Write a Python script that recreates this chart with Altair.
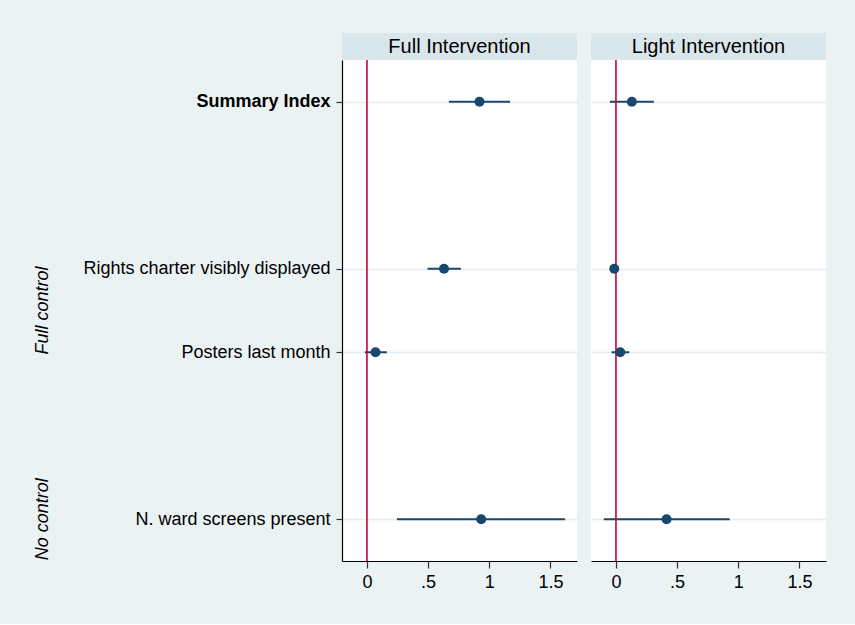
import altair as alt
import pandas as pd

# ---- data ----
outcomes = ["Summary Index", "Rights charter visibly displayed",
            "Posters last month", "N. ward screens present"]
positions = [1, 3, 4, 6]
groups = ["Full control", "No control"]
group_positions = [3.5, 6]
panels = ["Full Intervention", "Light Intervention"]

full_est = [0.92, 0.63, 0.07, 0.934]
full_lo = [0.67, 0.495, -0.017, 0.245]
full_hi = [1.17, 0.768, 0.163, 1.62]

light_est = [0.13, -0.014, 0.035, 0.414]
light_lo = [-0.05, -0.02, -0.036, -0.10]
light_hi = [0.31, -0.008, 0.109, 0.93]

x_ticks = [0, 0.5, 1, 1.5]
x_tick_labels = ["0", ".5", "1", "1.5"]

# ---- style ----
BG = "#eaf2f3"
STRIP = "#d9e6eb"
NAVY = "#1a476f"
RED = "#c10534"
FONT = "Liberation Sans"
W, H = 235, 501
X_DOMAIN = [-0.204, 1.717]

label_expr = " : ".join(
    f"datum.value == {p} ? '{o}'" for p, o in zip(positions, outcomes)
) + " : ''"
x_label_expr = " : ".join(
    f"datum.value == {v} ? '{l}'" for v, l in zip(x_ticks, x_tick_labels)
) + " : ''"


def panel(name, est, lo, hi, first):
    df = pd.DataFrame({"pos": positions, "est": est, "lo": lo, "hi": hi,
                       "outcome": outcomes})
    xscale = alt.Scale(domain=X_DOMAIN, nice=False, zero=False)
    yscale = alt.Scale(domain=[0.5, 6.5], reverse=True, nice=False, zero=False)
    xaxis = alt.Axis(values=x_ticks, labelExpr=x_label_expr, title=None, grid=False,
                     domainColor="#000000", domainWidth=1.2, tickColor="#333333",
                     tickWidth=1.2, tickSize=7, labelPadding=5, labelFontSize=18,
                     labelFont=FONT, labelColor="#000000")
    if first:
        yaxis = alt.Axis(values=positions, labelExpr=label_expr, title=None,
                         grid=True, gridColor="#e3ecee", gridWidth=1.5,
                         domainColor="#000000", domainWidth=1.2,
                         tickColor="#333333", tickWidth=1.2, tickSize=6,
                         labelPadding=6, labelFontSize=18, labelFont=FONT,
                         labelColor="#000000", labelLimit=400,
                         labelFontWeight={"condition": {"test": "datum.value == 1",
                                                        "value": "bold"},
                                          "value": "normal"})
    else:
        yaxis = alt.Axis(values=positions, title=None, grid=True,
                         gridColor="#e3ecee", gridWidth=1.5, labels=False,
                         ticks=False, domain=False)

    base = alt.Chart(df)
    ci = base.mark_rule(color=NAVY, strokeWidth=2).encode(
        x=alt.X("lo:Q", scale=xscale, axis=xaxis),
        x2="hi:Q",
        y=alt.Y("pos:Q", scale=yscale, axis=yaxis),
    )
    zero = alt.Chart(pd.DataFrame({"z": [0]})).mark_rule(
        color=RED, strokeWidth=1.6).encode(x=alt.X("z:Q", scale=xscale))
    pts = base.mark_point(filled=True, color=NAVY, size=100, opacity=1).encode(
        x=alt.X("est:Q", scale=xscale),
        y=alt.Y("pos:Q", scale=yscale),
    )
    strip = alt.Chart(pd.DataFrame({"t": [name]})).mark_rect(color=STRIP).encode(
        x=alt.value(0), x2=alt.value(W), y=alt.value(-27), y2=alt.value(0))
    strip_text = alt.Chart(pd.DataFrame({"t": [name]})).mark_text(
        font=FONT, fontSize=20, color="#000000", baseline="middle",
        align="center").encode(x=alt.value(W / 2), y=alt.value(-13), text="t:N")
    layers = [strip, strip_text, ci, zero, pts]
    if first:
        gdf = pd.DataFrame({"g": groups, "gpos": group_positions})
        gtext = alt.Chart(gdf).mark_text(
            font=FONT, fontSize=18, fontStyle="italic", color="#000000",
            angle=270, align="center", baseline="middle").encode(
            x=alt.value(-299), y=alt.Y("gpos:Q", scale=yscale), text="g:N")
        layers.append(gtext)
    return alt.layer(*layers).properties(width=W, height=H)


chart = alt.hconcat(
    panel(panels[0], full_est, full_lo, full_hi, True),
    panel(panels[1], light_est, light_lo, light_hi, False),
    spacing=14,
).properties(
    background=BG,
    padding={"left": 34, "top": 33, "right": 29, "bottom": 33},
).configure_view(fill="white", stroke=None)

chart.save("out.html", embed_options={"renderer": "svg", "actions": False})
